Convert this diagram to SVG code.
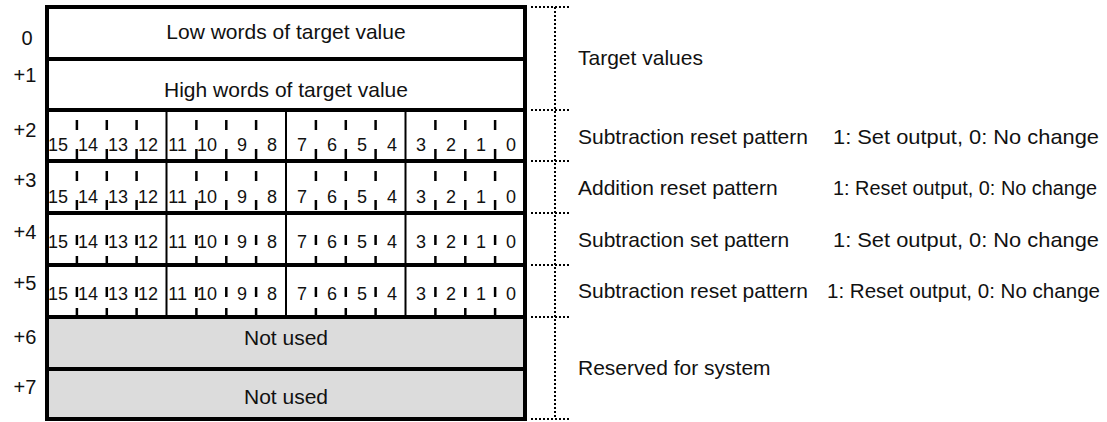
<svg xmlns="http://www.w3.org/2000/svg" width="1107" height="422" viewBox="0 0 1107 422">
<style>
text{font-family:"Liberation Sans",Arial,sans-serif;fill:#111}
.t{font-size:21px}
.t20{font-size:20px}
.lbl{font-size:20px;text-anchor:middle}
.mid{text-anchor:middle}
.d{font-size:18px;text-anchor:end}
.row{fill:#fff;stroke:none}
.gray{fill:#dcdcdc;stroke:none}
.hl{stroke:#000;stroke-width:4}
.nib{stroke:#000;stroke-width:2}
.tk{stroke:#000;stroke-width:2.5}
.dot{stroke:#000;stroke-width:2;stroke-dasharray:2 2;fill:none}
</style>
<rect x="0" y="0" width="1107" height="422" fill="#fff"/>
<g id="row0">
<rect class="row" x="47" y="7" width="478" height="52"/>
<text class="lbl" x="27" y="45">0</text>
<text class="t mid" x="286" y="39">Low words of target value</text>
</g>
<g id="row1">
<rect class="row" x="47" y="59" width="478" height="51"/>
<text class="lbl" x="25" y="82">+1</text>
<text class="t mid" x="286" y="97">High words of target value</text>
</g>
<g id="row2">
<text class="lbl" x="25" y="137">+2</text>
<g class="d">
<text x="68" y="151">15</text><text x="98" y="151">14</text><text x="128" y="151">13</text><text x="158" y="151">12</text>
<text x="187" y="151">11</text><text x="217" y="151">10</text><text x="247" y="151">9</text><text x="277" y="151">8</text>
<text x="307" y="151">7</text><text x="337" y="151">6</text><text x="367" y="151">5</text><text x="397" y="151">4</text>
<text x="426" y="151">3</text><text x="456" y="151">2</text><text x="486" y="151">1</text><text x="516" y="151">0</text>
</g>
</g>
<g id="row3">
<text class="lbl" x="25" y="187">+3</text>
<g class="d">
<text x="68" y="203">15</text><text x="98" y="203">14</text><text x="128" y="203">13</text><text x="158" y="203">12</text>
<text x="187" y="203">11</text><text x="217" y="203">10</text><text x="247" y="203">9</text><text x="277" y="203">8</text>
<text x="307" y="203">7</text><text x="337" y="203">6</text><text x="367" y="203">5</text><text x="397" y="203">4</text>
<text x="426" y="203">3</text><text x="456" y="203">2</text><text x="486" y="203">1</text><text x="516" y="203">0</text>
</g>
</g>
<g id="row4">
<text class="lbl" x="25" y="239">+4</text>
<g class="d">
<text x="68" y="248">15</text><text x="98" y="248">14</text><text x="128" y="248">13</text><text x="158" y="248">12</text>
<text x="187" y="248">11</text><text x="217" y="248">10</text><text x="247" y="248">9</text><text x="277" y="248">8</text>
<text x="307" y="248">7</text><text x="337" y="248">6</text><text x="367" y="248">5</text><text x="397" y="248">4</text>
<text x="426" y="248">3</text><text x="456" y="248">2</text><text x="486" y="248">1</text><text x="516" y="248">0</text>
</g>
</g>
<g id="row5">
<text class="lbl" x="25" y="290">+5</text>
<g class="d">
<text x="68" y="300">15</text><text x="98" y="300">14</text><text x="128" y="300">13</text><text x="158" y="300">12</text>
<text x="187" y="300">11</text><text x="217" y="300">10</text><text x="247" y="300">9</text><text x="277" y="300">8</text>
<text x="307" y="300">7</text><text x="337" y="300">6</text><text x="367" y="300">5</text><text x="397" y="300">4</text>
<text x="426" y="300">3</text><text x="456" y="300">2</text><text x="486" y="300">1</text><text x="516" y="300">0</text>
</g>
</g>
<g id="row6">
<rect class="gray" x="47" y="317" width="478" height="52"/>
<text class="lbl" x="25" y="344">+6</text>
<text class="t mid" x="286" y="345">Not used</text>
</g>
<g id="row7">
<rect class="gray" x="47" y="369" width="478" height="50"/>
<text class="lbl" x="25" y="394">+7</text>
<text class="t mid" x="286" y="404">Not used</text>
</g>
<g id="grid">
<path class="hl" d="M45 7H527M45 59H527M45 110H527M45 161H527M45 213H527M45 265H527M45 317H527M45 369H527M45 419H527M47 5V421M525 5V421"/>
<path class="nib" d="M166.5 110V317M286 110V317M405.5 110V317"/>
<path class="tk" d="M76.9 120v10M106.8 120v10M136.6 120v10M196.4 120v10M226.3 120v10M256.1 120v10M315.9 120v10M345.8 120v10M375.6 120v10M435.4 120v10M465.3 120v10M495.1 120v10
M76.9 149v10M106.8 149v10M136.6 149v10M196.4 149v10M226.3 149v10M256.1 149v10M315.9 149v10M345.8 149v10M375.6 149v10M435.4 149v10M465.3 149v10M495.1 149v10
M76.9 171v10M106.8 171v10M136.6 171v10M196.4 171v10M226.3 171v10M256.1 171v10M315.9 171v10M345.8 171v10M375.6 171v10M435.4 171v10M465.3 171v10M495.1 171v10
M76.9 200v10M106.8 200v10M136.6 200v10M196.4 200v10M226.3 200v10M256.1 200v10M315.9 200v10M345.8 200v10M375.6 200v10M435.4 200v10M465.3 200v10M495.1 200v10
M76.9 235v10M106.8 235v10M136.6 235v10M196.4 235v10M226.3 235v10M256.1 235v10M315.9 235v10M345.8 235v10M375.6 235v10M435.4 235v10M465.3 235v10M495.1 235v10
M76.9 256v8M106.8 256v8M136.6 256v8M196.4 256v8M226.3 256v8M256.1 256v8M315.9 256v8M345.8 256v8M375.6 256v8M435.4 256v8M465.3 256v8M495.1 256v8
M76.9 287v10M106.8 287v10M136.6 287v10M196.4 287v10M226.3 287v10M256.1 287v10M315.9 287v10M345.8 287v10M375.6 287v10M435.4 287v10M465.3 287v10M495.1 287v10
M76.9 308v8M106.8 308v8M136.6 308v8M196.4 308v8M226.3 308v8M256.1 308v8M315.9 308v8M345.8 308v8M375.6 308v8M435.4 308v8M465.3 308v8M495.1 308v8"/>
</g>
<g id="connectors">
<path class="dot" d="M555 7V419M531 7H570M531 110H570M531 161H570M531 213H570M531 265H570M531 317H570M531 419H570"/>
</g>
<g id="desc-target"><text class="t" x="578" y="65">Target values</text></g>
<g id="desc2"><text class="t" x="578" y="144">Subtraction reset pattern</text><text class="t" x="833" y="144" textLength="266" lengthAdjust="spacingAndGlyphs">1: Set output, 0: No change</text></g>
<g id="desc3"><text class="t" x="578" y="195">Addition reset pattern</text><text class="t20" x="833" y="195" textLength="264" lengthAdjust="spacingAndGlyphs">1: Reset output, 0: No change</text></g>
<g id="desc4"><text class="t" x="578" y="247">Subtraction set pattern</text><text class="t" x="833" y="247" textLength="266" lengthAdjust="spacingAndGlyphs">1: Set output, 0: No change</text></g>
<g id="desc5"><text class="t" x="578" y="298">Subtraction reset pattern</text><text class="t20" x="827" y="298" textLength="273" lengthAdjust="spacingAndGlyphs">1: Reset output, 0: No change</text></g>
<g id="desc-reserved"><text class="t" x="578" y="375">Reserved for system</text></g>
</svg>
